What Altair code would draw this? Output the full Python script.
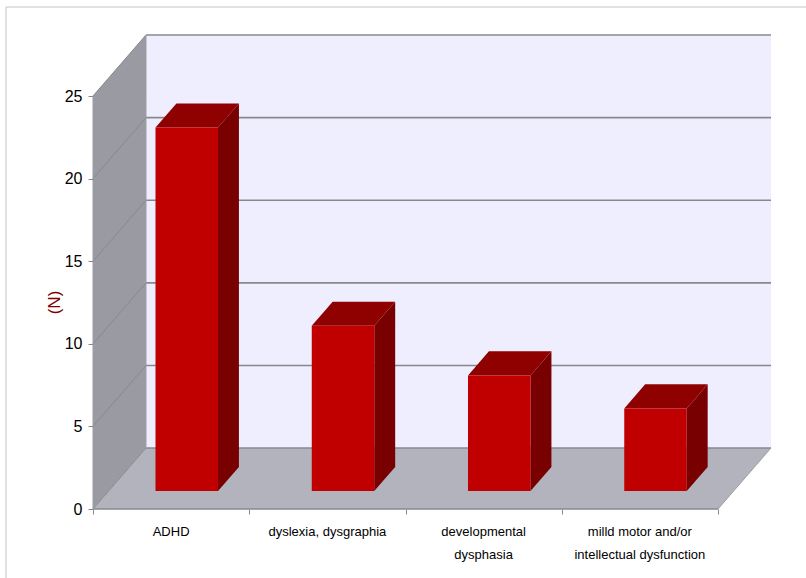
import altair as alt
import pandas as pd

categories = ["ADHD", "dyslexia, dysgraphia", "developmental\ndysphasia",
              "milld motor and/or\nintellectual dysfunction"]
counts = [22, 10, 7, 5]
y_ticks = [0, 5, 10, 15, 20, 25]

# Oblique projection of the 3D box, in axis units
DEPTH_X = 0.339
DEPTH_Y = 3.69
BAR_WIDTH = 0.4
BAR_NEAR = 0.295
BAR_FAR = 0.69
N = len(categories)
Y_TOP = 25
LINE_GRAY = "#88888c"

x_scale = alt.Scale(domain=[0, 713 / 156.25], nice=False, zero=False)
y_scale = alt.Scale(domain=[0, 509 / 16.52], nice=False, zero=False)

# The same axis definitions are shared by every layer so they merge into one
x_axis = alt.Axis(
    values=list(range(N + 1)), labels=False, title=None, grid=False, zindex=1, domain=False,
    tickColor=LINE_GRAY, tickSize=5, tickWidth=1)
y_axis = alt.Axis(
    values=y_ticks, grid=False, format="d", zindex=1, domain=False,
    tickColor=LINE_GRAY, tickSize=5, tickWidth=1,
    labelFont="Liberation Sans", labelFontSize=16, labelColor="#000000", labelPadding=6,
    title="(N)", titleFont="Liberation Sans", titleFontSize=17, titleFontWeight="normal",
    titleColor="#800000", titleX=-30, titleY=302, titleAngle=270)
X = lambda **kw: alt.X("x:Q", scale=x_scale, axis=x_axis, **kw)
Y = lambda **kw: alt.Y("y:Q", scale=y_scale, axis=y_axis, **kw)


def vertical_band(points, color):
    """Quad with two vertical edges; points are (x, y, y2)."""
    df = pd.DataFrame(points, columns=["x", "y", "y2"])
    return alt.Chart(df).mark_area(color=color, opacity=1).encode(
        X(), Y(), y2="y2:Q")


def horizontal_band(points, color):
    """Quad with two horizontal edges; points are (y, x, x2)."""
    df = pd.DataFrame(points, columns=["y", "x", "x2"])
    return alt.Chart(df).mark_area(color=color, opacity=1, orient="horizontal").encode(
        X(), Y(), x2="x2:Q")


def segments(rows, color, width):
    df = pd.DataFrame(rows, columns=["id", "x", "y"])
    return alt.Chart(df).mark_line(color=color, strokeWidth=width, clip=False).encode(
        X(), Y(), detail="id:N", order="x:Q")


back_wall = vertical_band([(DEPTH_X, DEPTH_Y, DEPTH_Y + Y_TOP),
                           (N + DEPTH_X, DEPTH_Y, DEPTH_Y + Y_TOP)], "#eeeeff")
side_wall = vertical_band([(0, 0, Y_TOP), (DEPTH_X, DEPTH_Y, DEPTH_Y + Y_TOP)], "#9a9aa3")
floor = horizontal_band([(0, 0, N), (DEPTH_Y, DEPTH_X, N + DEPTH_X)], "#b3b3bd")

back_lines = []
side_lines = []
for t in y_ticks:
    back_lines += [(t, DEPTH_X, t + DEPTH_Y), (t, N + DEPTH_X, t + DEPTH_Y)]
    side_lines += [(t, 0, t), (t, DEPTH_X, t + DEPTH_Y)]
edge_lines = [("l", DEPTH_X, DEPTH_Y), ("l", DEPTH_X, DEPTH_Y + Y_TOP),
              ("r", N, 0), ("r", N + DEPTH_X, DEPTH_Y)]
front_lines = [("b", 0, 0), ("b", N, 0)]
left_edge = [("a", 0, 0), ("a", 0, Y_TOP)]

layers = [back_wall, side_wall, floor,
          segments(back_lines, LINE_GRAY, 1.6),
          segments(side_lines, LINE_GRAY, 1),
          segments(edge_lines, "#9c9ca4", 1),
          segments(front_lines, LINE_GRAY, 1.5),
          segments(left_edge, "#9c9ca4", 1)]

# Each bar is three faces: side, top and front
for i, v in enumerate(counts):
    near_x = i + 0.5 - BAR_WIDTH / 2 + BAR_NEAR * DEPTH_X
    near_x2 = near_x + BAR_WIDTH
    far_dx = (BAR_FAR - BAR_NEAR) * DEPTH_X
    far_dy = (BAR_FAR - BAR_NEAR) * DEPTH_Y
    base = BAR_NEAR * DEPTH_Y
    layers.append(vertical_band([(near_x2, base, base + v),
                                 (near_x2 + far_dx, base + far_dy, base + far_dy + v)],
                                "#780000"))
    layers.append(horizontal_band([(base + v, near_x, near_x2),
                                   (base + far_dy + v, near_x + far_dx, near_x2 + far_dx)],
                                  "#8f0000"))
    layers.append(vertical_band([(near_x, base, base + v), (near_x2, base, base + v)],
                                "#c00000"))

label_df = pd.DataFrame({"x": [i + 0.5 for i in range(N)], "y": [0] * N, "label": categories})
labels = alt.Chart(label_df).mark_text(
    font="Liberation Sans", fontSize=13, color="#000000", lineBreak="\n",
    baseline="top", align="center", dy=17, lineHeight=23,
).encode(X(), Y(), text="label:N")
layers.append(labels)

# Thin frame around the figure
frame_top = alt.Chart(pd.DataFrame({"a": [0]})).mark_rule(color="#c4c4c4", strokeWidth=1).encode(
    x=alt.value(-87), x2=alt.value(713), y=alt.value(7))
frame_left = alt.Chart(pd.DataFrame({"a": [0]})).mark_rule(color="#c4c4c4", strokeWidth=1).encode(
    x=alt.value(-87), y=alt.value(7), y2=alt.value(578))
layers += [frame_top, frame_left]

chart = alt.layer(*layers).properties(
    width=713, height=509,
    background="white",
    autosize=alt.AutoSizeParams(type="none"),
    padding={"left": 93, "top": 0, "right": 0, "bottom": 69},
).configure_view(stroke=None)

chart.save("out.html", embed_options={"renderer": "svg", "actions": False})
